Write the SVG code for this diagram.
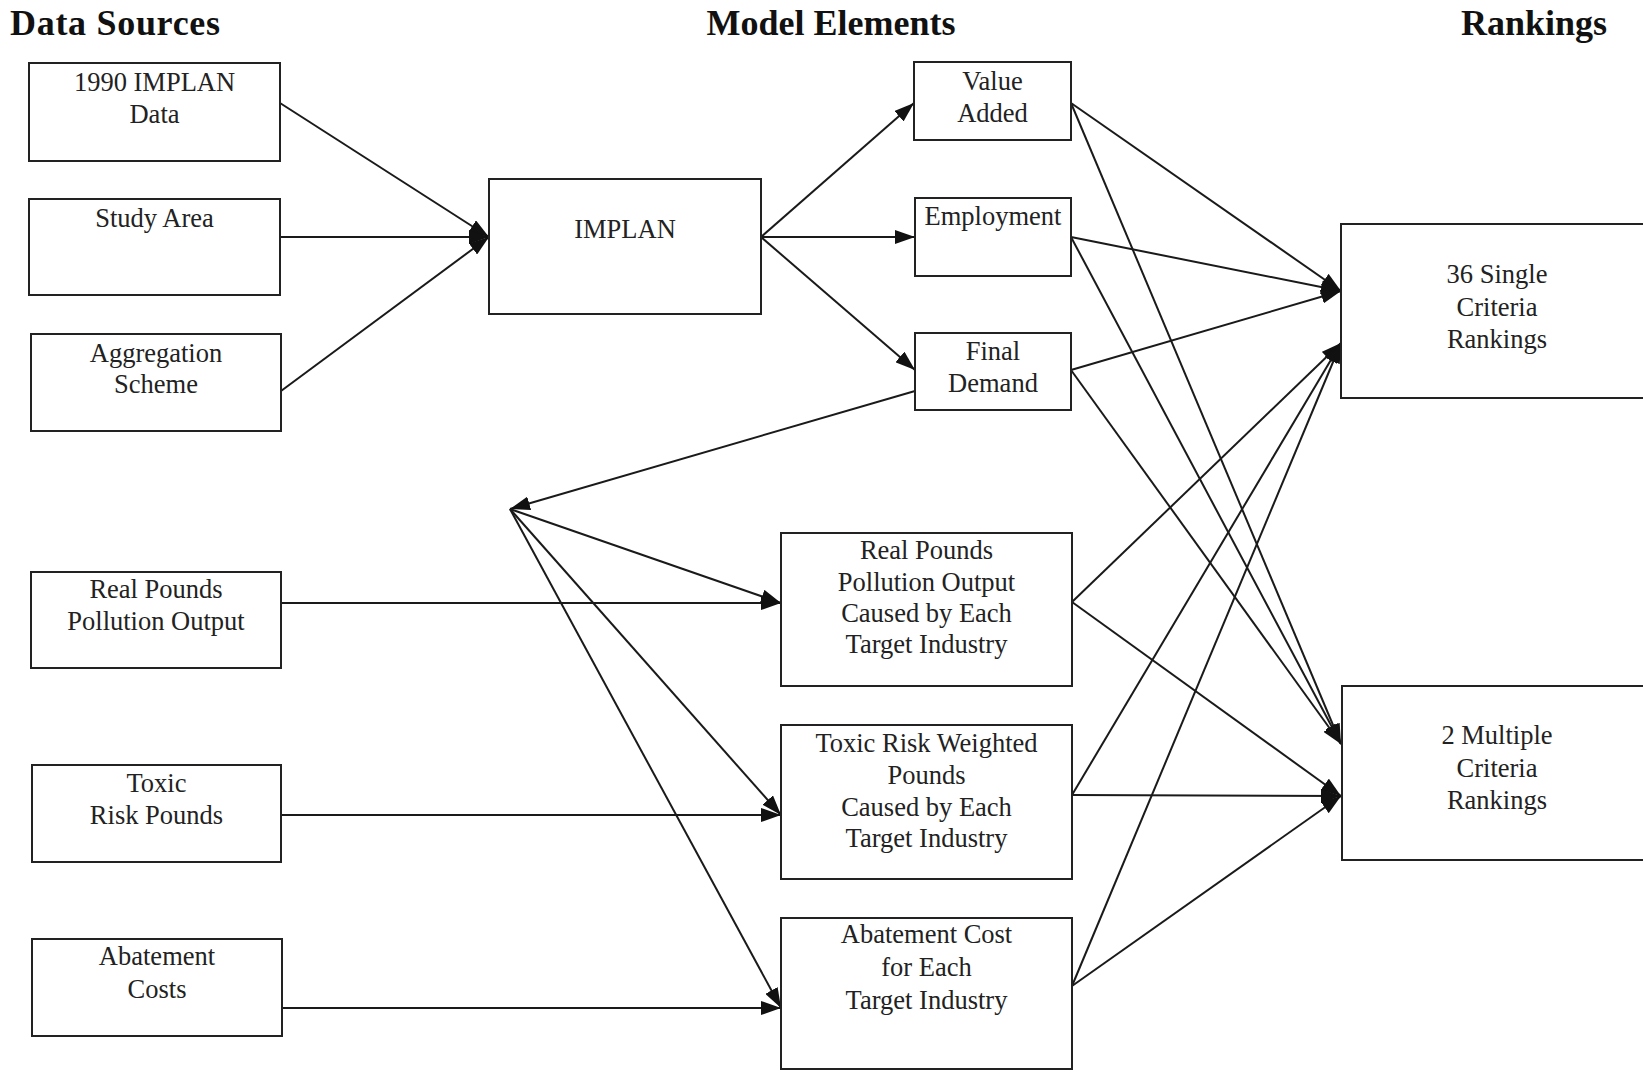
<svg xmlns="http://www.w3.org/2000/svg" width="1643" height="1072" viewBox="0 0 1643 1072">
<style>
.box{fill:#fff;stroke:#222;stroke-width:2}
.t{font-family:"Liberation Serif","Times New Roman",serif;font-size:26.5px;fill:#222;text-anchor:middle}
.h{font-family:"Liberation Serif","Times New Roman",serif;font-size:36px;font-weight:bold;fill:#111}
.c line{stroke:#1a1a1a;stroke-width:2;marker-end:url(#ah)}
</style>
<defs>
<marker id="ah" markerUnits="userSpaceOnUse" markerWidth="20" markerHeight="14" refX="20" refY="7" orient="auto">
<path d="M0,0 L20,7 L0,14 z" fill="#111"/>
</marker>
</defs>
<rect width="1643" height="1072" fill="#fff"/>
<g id="titles">
<text class="h" x="10" y="35" textLength="210">Data Sources</text>
<text class="h" x="831" y="35" text-anchor="middle">Model Elements</text>
<text class="h" x="1534" y="35" text-anchor="middle">Rankings</text>
</g>
<g class="c" id="connectors">
<line x1="280" y1="103" x2="489" y2="237"/>
<line x1="280" y1="237" x2="489" y2="237"/>
<line x1="281" y1="391" x2="489" y2="237"/>
<line x1="761" y1="237" x2="914" y2="103"/>
<line x1="761" y1="237" x2="915" y2="237"/>
<line x1="761" y1="237" x2="915" y2="370"/>
<line x1="915" y1="391" x2="510" y2="509"/>
<line x1="510" y1="509" x2="781" y2="603"/>
<line x1="510" y1="509" x2="781" y2="815"/>
<line x1="510" y1="509" x2="781" y2="1008"/>
<line x1="281" y1="603" x2="781" y2="603"/>
<line x1="281" y1="815" x2="781" y2="815"/>
<line x1="282" y1="1008" x2="781" y2="1008"/>
<line x1="1071" y1="103" x2="1341" y2="291"/>
<line x1="1071" y1="103" x2="1341" y2="744"/>
<line x1="1071" y1="237" x2="1341" y2="291"/>
<line x1="1071" y1="237" x2="1341" y2="744"/>
<line x1="1071" y1="370" x2="1341" y2="291"/>
<line x1="1071" y1="370" x2="1341" y2="744"/>
<line x1="1072" y1="602" x2="1341" y2="343"/>
<line x1="1072" y1="602" x2="1341" y2="796"/>
<line x1="1072" y1="795" x2="1341" y2="343"/>
<line x1="1072" y1="795" x2="1341" y2="796"/>
<line x1="1072" y1="986" x2="1341" y2="343"/>
<line x1="1072" y1="986" x2="1341" y2="796"/>
</g>
<g id="n-implan-data"><rect class="box" x="29" y="63" width="251" height="98"/><text class="t" x="154.5" y="91">1990 IMPLAN</text><text class="t" x="154.5" y="123">Data</text></g>
<g id="n-study-area"><rect class="box" x="29" y="199" width="251" height="96"/><text class="t" x="154.5" y="227">Study Area</text></g>
<g id="n-aggregation"><rect class="box" x="31" y="334" width="250" height="97"/><text class="t" x="156" y="362">Aggregation</text><text class="t" x="156" y="393">Scheme</text></g>
<g id="n-implan"><rect class="box" x="489" y="179" width="272" height="135"/><text class="t" x="625" y="238">IMPLAN</text></g>
<g id="n-value-added"><rect class="box" x="914" y="62" width="157" height="78"/><text class="t" x="992.5" y="90">Value</text><text class="t" x="992.5" y="122">Added</text></g>
<g id="n-employment"><rect class="box" x="915" y="198" width="156" height="78"/><text class="t" x="993" y="225">Employment</text></g>
<g id="n-final-demand"><rect class="box" x="915" y="333" width="156" height="77"/><text class="t" x="993" y="360">Final</text><text class="t" x="993" y="392">Demand</text></g>
<g id="n-real-pounds"><rect class="box" x="31" y="572" width="250" height="96"/><text class="t" x="156" y="598">Real Pounds</text><text class="t" x="156" y="630">Pollution Output</text></g>
<g id="n-toxic"><rect class="box" x="32" y="765" width="249" height="97"/><text class="t" x="156.5" y="792">Toxic</text><text class="t" x="156.5" y="824">Risk Pounds</text></g>
<g id="n-abatement"><rect class="box" x="32" y="939" width="250" height="97"/><text class="t" x="157" y="965">Abatement</text><text class="t" x="157" y="998">Costs</text></g>
<g id="n-rp-caused"><rect class="box" x="781" y="533" width="291" height="153"/><text class="t" x="926.5" y="559">Real Pounds</text><text class="t" x="926.5" y="591">Pollution Output</text><text class="t" x="926.5" y="622">Caused by Each</text><text class="t" x="926.5" y="653">Target Industry</text></g>
<g id="n-trw-caused"><rect class="box" x="781" y="725" width="291" height="154"/><text class="t" x="926.5" y="752">Toxic Risk Weighted</text><text class="t" x="926.5" y="784">Pounds</text><text class="t" x="926.5" y="816">Caused by Each</text><text class="t" x="926.5" y="847">Target Industry</text></g>
<g id="n-abatement-cost"><rect class="box" x="781" y="918" width="291" height="151"/><text class="t" x="926.5" y="943">Abatement Cost</text><text class="t" x="926.5" y="976">for Each</text><text class="t" x="926.5" y="1009">Target Industry</text></g>
<g id="n-single"><rect class="box" x="1341" y="224" width="320" height="174"/><text class="t" x="1497" y="283">36 Single</text><text class="t" x="1497" y="316">Criteria</text><text class="t" x="1497" y="348">Rankings</text></g>
<g id="n-multiple"><rect class="box" x="1342" y="686" width="320" height="174"/><text class="t" x="1497" y="744">2 Multiple</text><text class="t" x="1497" y="777">Criteria</text><text class="t" x="1497" y="809">Rankings</text></g>
</svg>
